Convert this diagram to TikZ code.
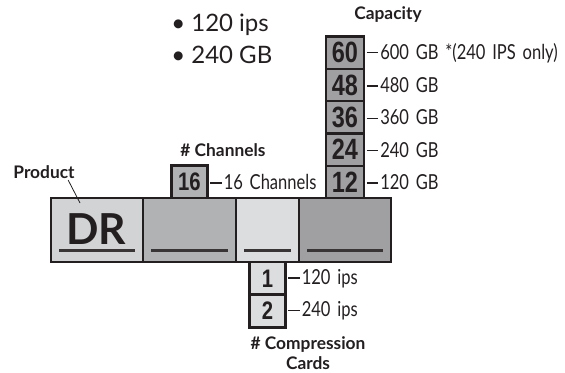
\documentclass[tikz,border=0pt]{standalone}
\usepackage{fontspec}
\setmainfont{Lato}
\newfontfamily\condfont[FakeStretch=0.8,WordSpace=1.6]{Lato}
\newfontfamily\numfont[FakeStretch=0.8]{Liberation Sans}
\usetikzlibrary{positioning}

\definecolor{inkdark}{HTML}{231F20}
\definecolor{prodfill}{HTML}{D2D3D5}
\definecolor{chanfill}{HTML}{B1B2B4}
\definecolor{compfill}{HTML}{DCDDDF}
\definecolor{capfill}{HTML}{A0A0A3}

\newcommand\optdash{\rule[0.27em]{8.5pt}{1.2pt}\kern1.5pt}

\tikzset{
  seg/.style={draw=inkdark, line width=1.8pt, inner sep=0pt, outer sep=0pt, minimum height=48pt},
  numbox/.style={draw=inkdark, line width=1.8pt, inner sep=0pt, outer sep=0pt,
    minimum width=27pt, minimum height=24.5pt, text=inkdark,
    font=\numfont\bfseries\fontsize{19}{19}\selectfont},
  capbox/.style={numbox, fill=capfill, minimum width=28.5pt, minimum height=24.2pt,
    font=\numfont\bfseries\fontsize{22}{22}\selectfont},
  optlabel/.style={right=2pt of #1, inner sep=0pt, text=inkdark,
    font=\condfont\fontsize{15.5}{16}\selectfont},
  heading/.style={inner sep=0pt, align=center, text=inkdark,
    font=\bfseries\fontsize{13}{14.5}\selectfont},
  uline/.style={draw=inkdark!90, line width=2pt},
}

\begin{document}
\begin{tikzpicture}[x=0.75pt,y=-0.75pt]
  \useasboundingbox (0,0) rectangle (565,372);

  % Top notes
  \node[anchor=west, inner sep=0pt, text=inkdark, font=\fontsize{18}{18}\selectfont] (noteIps) at (171,25) {• 120 ips};
  \node[anchor=west, inner sep=0pt, text=inkdark, font=\fontsize{18}{18}\selectfont] (noteGb) at (171,55) {• 240 GB};

  % Product bar, four segments
  \node[seg, fill=prodfill, minimum width=69pt] (segProd) at (97,230) {};
  \node[seg, fill=chanfill, minimum width=69.75pt, right=0pt of segProd] (segChan) {};
  \node[seg, fill=compfill, minimum width=47.25pt, right=0pt of segChan] (segComp) {};
  \node[seg, fill=capfill, minimum width=69pt, right=0pt of segComp] (segCap) {};

  % Blanks to fill in
  \foreach \s in {segProd,segChan,segComp,segCap}
    \draw[uline] ([xshift=6pt,yshift=8.5pt]\s.south west) -- ([xshift=-6pt,yshift=8.5pt]\s.south east);

  \node[anchor=base, inner sep=0pt, text=inkdark, font=\bfseries\fontsize{32}{32}\selectfont] (prodName) at (96,244) {DR};

  % Product label
  \node[heading] (prodHead) at (44,172) {Product};
  \coordinate (prodTip) at (80,203);
  \draw[inkdark, line width=0.6pt] ([xshift=-5pt,yshift=-1pt]prodHead.south east) -- (prodTip);

  % Channels
  \node[numbox, fill=chanfill, above=0pt of segChan] (ch16) {16};
  \node[optlabel=ch16] (ch16txt) {\optdash16 Channels};
  \node[heading] (chanHead) at (223,150) {\# Channels};

  % Capacity column
  \node[capbox, above=0pt of segCap] (cap12) {12};
  \node[capbox, above=0pt of cap12] (cap24) {24};
  \node[capbox, above=0pt of cap24] (cap36) {36};
  \node[capbox, above=0pt of cap36] (cap48) {48};
  \node[capbox, above=0pt of cap48] (cap60) {60};
  \node[optlabel=cap12] (cap12txt) {\optdash120 GB};
  \node[optlabel=cap24] (cap24txt) {\optdash240 GB};
  \node[optlabel=cap36] (cap36txt) {\optdash360 GB};
  \node[optlabel=cap48] (cap48txt) {\optdash480 GB};
  \node[optlabel=cap60] (cap60txt) {\optdash600 GB *(240 IPS only)};
  \node[heading] (capHead) at (388,15) {Capacity};

  % Compression cards
  \node[numbox, fill=compfill, below=0pt of segComp] (comp1) {1};
  \node[numbox, fill=compfill, below=0pt of comp1] (comp2) {2};
  \node[optlabel=comp1] (comp1txt) {\optdash120 ips};
  \node[optlabel=comp2] (comp2txt) {\optdash240 ips};
  \node[heading] (compHead) at (308,353) {\# Compression\\Cards};
\end{tikzpicture}
\end{document}
